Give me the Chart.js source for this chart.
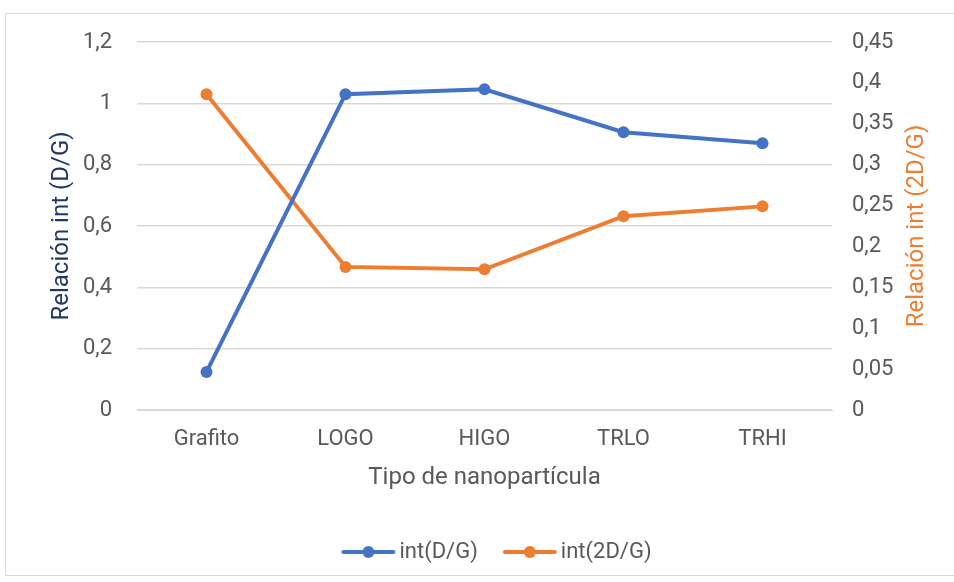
<!DOCTYPE html>
<html>
<head>
<meta charset="utf-8">
<script src="https://cdn.jsdelivr.net/npm/chart.js@4/dist/chart.umd.min.js"></script>
<style>
  html, body { margin: 0; padding: 0; background: #fff; }
  #wrap { position: relative; width: 954px; height: 582px; }
  #frame { position: absolute; left: 5px; top: 13px; width: 950px; height: 563px;
           border: 1px solid #d9d9d9; box-sizing: border-box; pointer-events: none; }
  canvas { position: absolute; left: 0; top: 0; }
</style>
</head>
<body>
<div id="wrap">
  <canvas id="c" width="954" height="582"></canvas>
  <div id="frame"></div>
</div>
<script>
// Nanoparticle types and Raman intensity ratios
const categories = ['Grafito', 'LOGO', 'HIGO', 'TRLO', 'TRHI'];
const ratioDG = [0.124, 1.030, 1.046, 0.906, 0.870];
const ratio2DG = [0.386, 0.175, 0.172, 0.237, 0.249];
const seriesNames = ['int(D/G)', 'int(2D/G)'];
const leftTicks = [0, 0.2, 0.4, 0.6, 0.8, 1, 1.2];
const rightTicks = [0, 0.05, 0.1, 0.15, 0.2, 0.25, 0.3, 0.35, 0.4, 0.45];

const BLUE = '#4472C4';
const ORANGE = '#ED7D31';
const TEXT = '#595959';
const FONT = 'Roboto, "Open Sans", sans-serif';
const RIGHT_TITLE = 'Relación int (2D/G)';

const fmt = v => String(Math.round(v * 100) / 100).replace('.', ',');

// Legend icon: short line with a dot in the middle
function legendIcon(color) {
  const cv = document.createElement('canvas');
  cv.width = 56; cv.height = 14;
  const g = cv.getContext('2d');
  g.strokeStyle = color; g.lineWidth = 4; g.lineCap = 'round';
  g.beginPath(); g.moveTo(3, 7); g.lineTo(53, 7); g.stroke();
  g.fillStyle = color;
  g.beginPath(); g.arc(28, 7, 6, 0, Math.PI * 2); g.fill();
  return cv;
}

// Secondary axis title, read bottom-to-top beside the right tick labels
const rightTitlePlugin = {
  id: 'rightTitle',
  afterDraw(chart) {
    const ctx = chart.ctx;
    const s = chart.scales.y1;
    ctx.save();
    ctx.translate(917, (s.top + s.bottom) / 2);
    ctx.rotate(-Math.PI / 2);
    ctx.fillStyle = ORANGE;
    ctx.font = '24px ' + FONT;
    ctx.textAlign = 'center';
    ctx.textBaseline = 'middle';
    ctx.fillText(RIGHT_TITLE, 0, 0);
    ctx.restore();
  }
};

new Chart(document.getElementById('c'), {
  type: 'line',
  data: {
    labels: categories,
    datasets: [
      { label: seriesNames[0], data: ratioDG, yAxisID: 'y', borderColor: BLUE, backgroundColor: BLUE,
        borderWidth: 4, pointRadius: 6, pointBackgroundColor: BLUE, pointBorderWidth: 0,
        pointStyle: 'circle', legendIcon: legendIcon(BLUE) },
      { label: seriesNames[1], data: ratio2DG, yAxisID: 'y1', borderColor: ORANGE, backgroundColor: ORANGE,
        borderWidth: 4, pointRadius: 6, pointBackgroundColor: ORANGE, pointBorderWidth: 0,
        pointStyle: 'circle', legendIcon: legendIcon(ORANGE) }
    ]
  },
  options: {
    responsive: false,
    animation: false,
    layout: { padding: { top: 42, left: 46, right: 0, bottom: 9 } },
    plugins: {
      tooltip: { enabled: false },
      legend: {
        position: 'bottom',
        labels: {
          color: TEXT,
          font: { family: FONT, size: 22 },
          usePointStyle: true,
          pointStyleWidth: 40,
          boxHeight: 14,
          padding: 32,
          generateLabels(chart) {
            return chart.data.datasets.map((ds, i) => ({
              text: ds.label, fontColor: TEXT, pointStyle: ds.legendIcon,
              fillStyle: ds.borderColor, strokeStyle: ds.borderColor, lineWidth: 0,
              hidden: false, datasetIndex: i
            }));
          }
        }
      }
    },
    scales: {
      x: {
        offset: true,
        grid: { display: false, drawTicks: false },
        border: { display: true, color: '#d9d9d9', width: 1 },
        ticks: { color: TEXT, font: { family: FONT, size: 22 }, padding: 16 },
        title: { display: true, text: 'Tipo de nanopartícula', color: TEXT,
                 font: { family: FONT, size: 24 }, padding: { top: 0, bottom: 17 } },
        afterFit(s) { s.height = 99; }
      },
      y: {
        position: 'left', min: 0, max: 1.2,
        afterBuildTicks(s) { s.ticks = leftTicks.map(v => ({ value: v })); },
        grid: { color: '#d9d9d9', lineWidth: 1.5, drawTicks: false },
        border: { display: false },
        ticks: { color: TEXT, font: { family: FONT, size: 22 }, padding: 25, callback: v => fmt(v) },
        title: { display: true, text: 'Relación int (D/G)', color: '#203864',
                 font: { family: FONT, size: 24 }, padding: { top: 2, bottom: 0 } },
        afterFit(s) { s.width = 91; }
      },
      y1: {
        position: 'right', min: 0, max: 0.45,
        afterBuildTicks(s) { s.ticks = rightTicks.map(v => ({ value: v })); },
        grid: { display: false, drawTicks: false },
        border: { display: false },
        ticks: { color: TEXT, font: { family: FONT, size: 22 }, padding: 20, callback: v => fmt(v) },
        afterFit(s) { s.width = 122; }
      }
    }
  },
  plugins: [rightTitlePlugin]
});
</script>
</body>
</html>
